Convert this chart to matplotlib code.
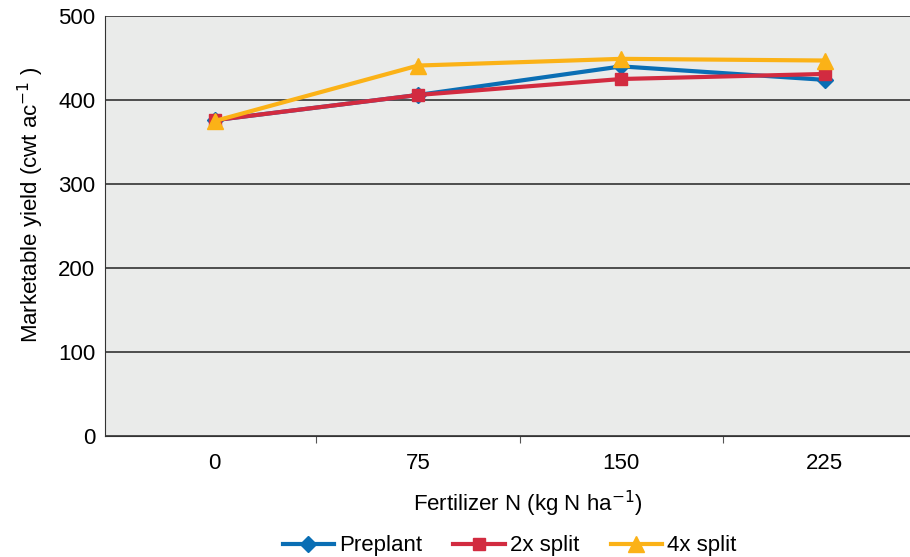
import matplotlib
matplotlib.use("Agg")
import matplotlib.pyplot as plt

plt.rcParams['font.family'] = ['Liberation Sans', 'DejaVu Sans']

# DATA
n_rates = ["0", "75", "150", "225"]
preplant = [376, 406, 440, 424]
split_2x = [376, 406, 425, 431]
split_4x = [375, 441, 449, 447]

BLUE = "#0A6EB4"
RED = "#D22B40"
YELLOW = "#FBB217"

fig = plt.figure(figsize=(9.1, 5.57), dpi=100)
ax = fig.add_axes([105 / 910, (557 - 436) / 557, 1 - 105 / 910, (436 - 16) / 557])
ax.set_facecolor("#EAEBEA")

x = list(range(len(n_rates)))
ax.plot(x, preplant, color=BLUE, lw=3, marker="D", ms=8, label="Preplant", zorder=3)
ax.plot(x, split_2x, color=RED, lw=3, marker="s", ms=9, label="2x split", zorder=4)
ax.plot(x, split_4x, color=YELLOW, lw=3, marker="^", ms=12, label="4x split", zorder=5)

ax.set_ylim(0, 500)
ax.set_xlim(-0.54, 3.42)
ax.set_yticks([0, 100, 200, 300, 400, 500])
ax.yaxis.grid(True, color="#333333", lw=1.2)
ax.set_axisbelow(True)

# categories labelled in the middle, tick marks between them
ax.set_xticks([0.5, 1.5, 2.5])
ax.set_xticklabels([])
ax.set_xticks(x, minor=True)
ax.set_xticklabels(n_rates, minor=True)
ax.tick_params(axis="x", which="minor", length=0, pad=12, labelsize=16)
ax.tick_params(axis="x", which="major", length=5, color="#555555")
ax.tick_params(axis="y", length=0, pad=7, labelsize=16)

for s in ["top", "right"]:
    ax.spines[s].set_visible(False)
ax.spines["left"].set_color("#333333")
ax.spines["bottom"].set_color("#333333")

ax.set_ylabel("Marketable yield (cwt ac$^{-1}$ )", fontsize=16)
ax.yaxis.set_label_coords(-0.073, 0.55)
ax.set_xlabel("Fertilizer N (kg N ha$^{-1}$)", fontsize=16)
ax.xaxis.set_label_coords(0.525, -0.125)

fig.legend(loc="lower center", bbox_to_anchor=(0.56, -0.035), ncol=3, frameon=False,
           fontsize=16, handlelength=2.3, columnspacing=1.4, handletextpad=0.25)

fig.savefig("out.png", dpi=100)
